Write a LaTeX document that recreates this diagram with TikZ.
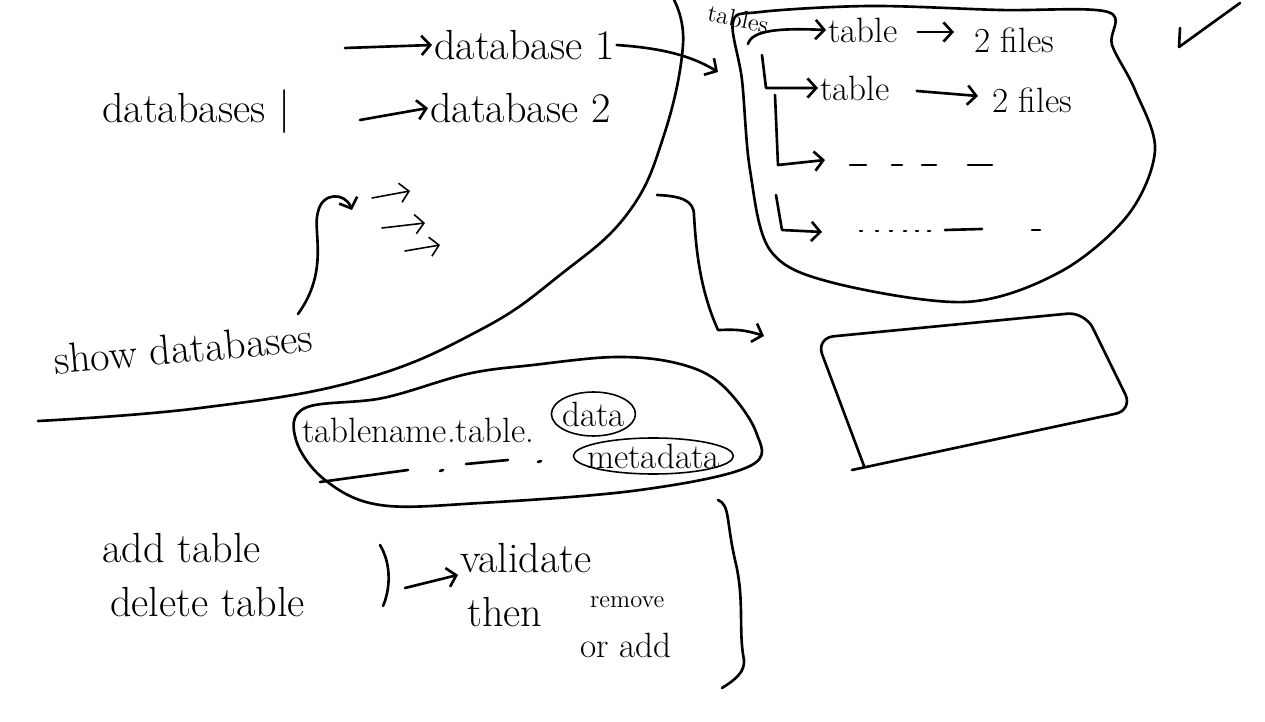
\documentclass[tikz,border=0pt]{standalone}
\usepackage{tikz}
\usetikzlibrary{arrows.meta, positioning, calc, shapes.geometric}

\begin{document}
\begin{tikzpicture}[
				x=0.02cm, y=-0.02cm,
				pen/.style={line width=1.5pt, line cap=round, line join=round},
				thinpen/.style={line width=0.9pt, line cap=round, line join=round},
				note/.style={font=\fontsize{24}{26}\selectfont, inner sep=1pt, anchor=west},
				mid/.style={font=\fontsize{20}{22}\selectfont, inner sep=1pt, anchor=west},
				tiny/.style={font=\fontsize{14}{16}\selectfont, inner sep=1pt, anchor=west},
				>={Straight Barb[length=5pt, width=11pt]}
				]
				\useasboundingbox (0,0) rectangle (1265,722);

				% databases
				\node[note] (dbs) at (100,112) {databases $|$};
				\node[note] (db1) at (432,45) {database 1};
				\node[note] (db2) at (428,108) {database 2};
				\coordinate (a1) at (345,48);
				\coordinate (a2) at (360,120);
				\draw[pen, ->] (a1) -- (db1.west);
				\draw[pen, ->] (a2) -- (db2.west);

				% divider
				\draw[pen] plot[smooth, tension=0.7] coordinates {(674,0) (683,45) (664,135) (628,213)
					(560,275) (480,330) (360,380) (200,408) (38,421)};

				% tables
				\node[tiny, rotate=-12] (tbs) at (706,12) {tables};
				\coordinate (tin) at (718,72);
				\draw[pen, ->] (db1.east) .. controls (660,48) and (690,55) .. (tin);

				% big blob
				\draw[pen] plot[smooth cycle, tension=0.55] coordinates {(733,22) (742,80) (750,170) (770,250)
					(830,282) (965,302) (1060,272) (1128,215) (1155,150) (1135,90) (1112,45) (1108,12)
					(1000,10) (870,6) (760,12)};

				\node[mid] (t1) at (826,30) {table};
				\node[mid] (f1) at (972,40) {2 files};
				\node[mid] (t2) at (818,88) {table};
				\node[mid] (f2) at (990,100) {2 files};
				\draw[pen, ->] ($(t1.east)+(18,2)$) -- ($(f1.west)+(-18,-8)$);
				\draw[pen, ->] ($(t2.east)+(25,3)$) -- ($(f2.west)+(-12,-4)$);
				\draw[pen, ->] (748,44) .. controls (752,30) and (780,28) .. (t1.west);
				\draw[pen, ->] (762,55) -- (766,88) -- (t2.west);
				\draw[pen, ->] (775,95) -- (778,165) -- (825,160);
				\draw[pen, ->] (776,195) -- (782,230) -- (822,232);
				\foreach \xa/\xb in {850/866, 892/902, 922/936, 968/992}
					\draw[pen] (\xa,165) -- (\xb,165);
				\foreach \xa in {860, 876, 890, 904, 916, 928}
					\draw[pen] (\xa,231) -- (\xa+2,231);
				\draw[pen] (945,230) -- (982,229);
				\draw[pen] (1032,230) -- (1040,230);

				% box to the right
				\draw[pen, ->] (657,195) .. controls (680,196) and (694,200) .. (694,215)
					.. controls (696,250) and (700,290) .. (718,330)
					.. controls (728,330) and (740,328) .. (764,336);
				\draw[pen, rounded corners=10pt] (864,466) -- (816,338) -- (1085,312)
					-- (1133,410) -- (852,470);

				% check
				\draw[pen] (1180,28) -- (1179,47) -- (1240,3);

				% show databases
				\node[note, rotate=5] (show) at (52,360) {show databases};
				\coordinate (sb) at (352,210);
				\draw[pen, ->] (298,314) .. controls (330,270) and (312,230) .. (318,212)
					.. controls (322,192) and (345,192) .. (sb);
				\draw[thinpen, ->] (372,198) -- (410,191);
				\draw[thinpen, ->] (382,228) -- (425,223);
				\draw[thinpen, ->] (405,251) -- (440,245);

				% table name blob
				\node[mid] (tbn) at (300,430) {tablename.table.};
				\node[mid] (data) at (560,414) {data};
				\node[mid] (meta) at (585,456) {metadata};
				\draw[thinpen] (data.center) ellipse (42 and 22);
				\draw[thinpen] (meta.center) ellipse (80 and 18);
				\draw[pen] (320,482) -- (408,470);
				\draw[pen] (440,471) -- (443,470);
				\draw[pen] (466,464) -- (508,460);
				\draw[pen] (538,462) -- (541,461);
				\draw[pen] plot[smooth cycle, tension=0.6] coordinates {(305,408) (383,398) (467,374) (533,365)
					(617,357) (680,364) (722,385) (756,432) (750,466) (640,490) (480,503) (380,505) (325,480)
					(296,440)};

				% add and delete
				\node[note] (add) at (100,548) {add table};
				\node[note] (del) at (108,602) {delete table};
				\coordinate (br1) at (380,545);
				\coordinate (br2) at (383,606);
				\draw[pen] (br1) .. controls (392,565) and (390,590) .. (br2);
				\node[note] (val) at (458,558) {validate};
				\node[note] (then) at (465,612) {then};
				\node[tiny] (rem) at (588,602) {remove};
				\node[mid] (oradd) at (578,645) {or add};
				\draw[pen, ->] (405,588) -- (val.south west);
				\draw[pen] (718,500) .. controls (730,505) and (726,520) .. (735,560)
					.. controls (745,600) and (738,630) .. (744,660)
					.. controls (745,672) and (735,680) .. (722,688);
			\end{tikzpicture}
\end{document}
